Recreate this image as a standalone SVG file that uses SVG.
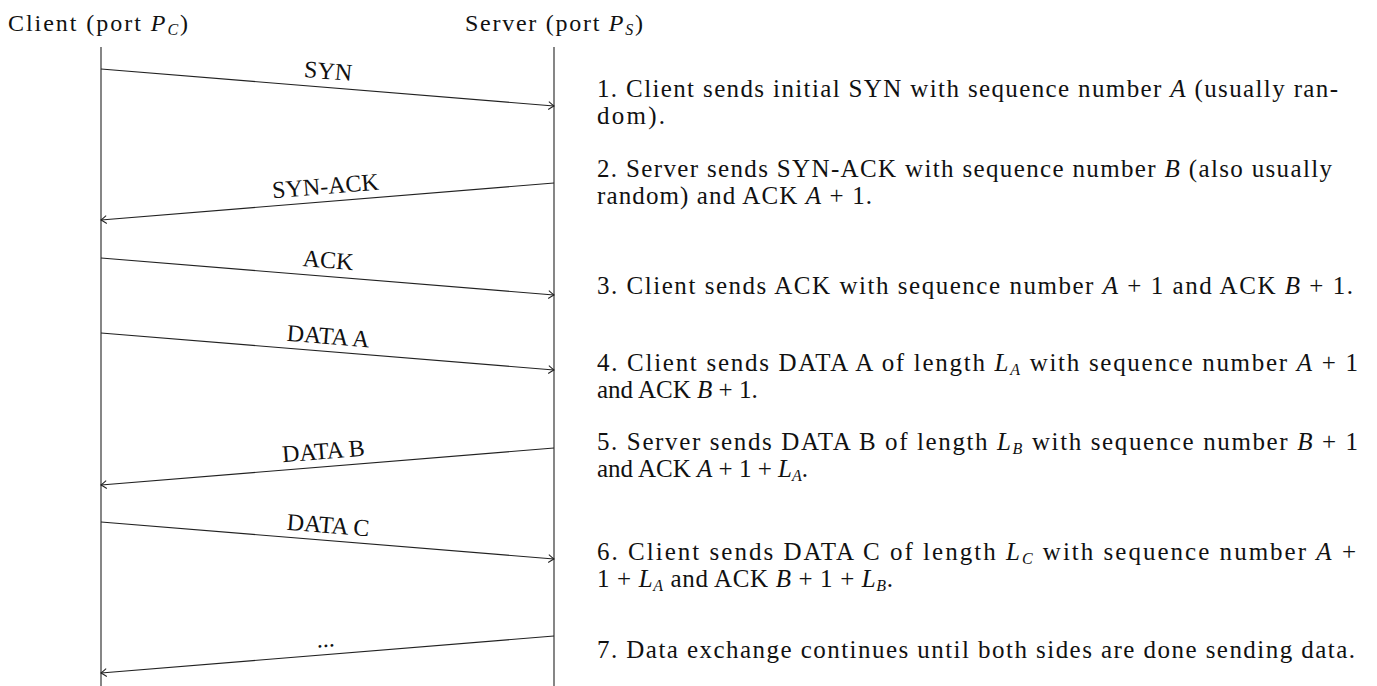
<svg xmlns="http://www.w3.org/2000/svg" width="1377" height="686" viewBox="0 0 1377 686">
<style>
text{font-family:"Liberation Serif","DejaVu Serif",serif;fill:#111;font-size:24px}
.n{font-size:25px}
.m{font-style:italic}
.s{font-size:16px;font-style:italic}
.life{stroke:#222;stroke-width:1.1}
.msg{stroke:#222;stroke-width:1.1;fill:none;marker-end:url(#arr)}
</style>
<defs>
<marker id="arr" markerUnits="userSpaceOnUse" markerWidth="12" markerHeight="12" refX="0" refY="0" viewBox="-7 -6 8 12" orient="auto">
<path d="M-5.5,-4 Q-1.5,-1 0,0 Q-1.5,1 -5.5,4" fill="none" stroke="#222" stroke-width="1"/>
</marker>
</defs>
<g id="client">
<text x="8" y="31" textLength="180" lengthAdjust="spacing">Client (port <tspan class="m">P</tspan><tspan class="s" dy="4">C</tspan><tspan dy="-4">)</tspan></text>
<line class="life" x1="101" y1="47" x2="101" y2="686"/>
</g>
<g id="server">
<text x="465" y="31" textLength="178" lengthAdjust="spacing">Server (port <tspan class="m">P</tspan><tspan class="s" dy="4">S</tspan><tspan dy="-4">)</tspan></text>
<line class="life" x1="554" y1="47" x2="554" y2="686"/>
</g>
<g id="connectors">
<line class="msg" x1="101" y1="69" x2="554" y2="106"/>
<line class="msg" x1="554" y1="183" x2="101" y2="220"/>
<line class="msg" x1="101" y1="258" x2="554" y2="295"/>
<line class="msg" x1="101" y1="333" x2="554" y2="370"/>
<line class="msg" x1="554" y1="448" x2="101" y2="485"/>
<line class="msg" x1="101" y1="522" x2="554" y2="559"/>
<line class="msg" x1="554" y1="636" x2="101" y2="673"/>
</g>
<g id="labels" text-anchor="middle">
<text transform="translate(327.5,79) rotate(4.67)">SYN</text>
<text transform="translate(326,194) rotate(-4.67)">SYN-ACK</text>
<text transform="translate(327.5,268) rotate(4.67)">ACK</text>
<text transform="translate(327.5,344) rotate(4.67)">DATA A</text>
<text transform="translate(324,459) rotate(-4.67)">DATA B</text>
<text transform="translate(327.5,533) rotate(4.67)">DATA C</text>
<text transform="translate(326,647) rotate(-4.67)">...</text>
</g>
<g id="notes">
<text class="n" x="597" y="97" textLength="741" lengthAdjust="spacing">1. Client sends initial SYN with sequence number <tspan class="m">A</tspan> (usually ran-</text>
<text class="n" x="597" y="124" textLength="68" lengthAdjust="spacing">dom).</text>
<text class="n" x="597" y="177" textLength="735" lengthAdjust="spacing">2. Server sends SYN-ACK with sequence number <tspan class="m">B</tspan> (also usually</text>
<text class="n" x="597" y="204" textLength="275" lengthAdjust="spacing">random) and ACK <tspan class="m">A</tspan> + 1.</text>
<text class="n" x="597" y="294" textLength="756" lengthAdjust="spacing">3. Client sends ACK with sequence number <tspan class="m">A</tspan> + 1 and ACK <tspan class="m">B</tspan> + 1.</text>
<text class="n" x="597" y="371" textLength="761" lengthAdjust="spacing">4. Client sends DATA A of length <tspan class="m">L</tspan><tspan class="s" dy="4">A</tspan><tspan dy="-4"> with sequence number </tspan><tspan class="m">A</tspan> + 1</text>
<text class="n" x="597" y="398">and ACK <tspan class="m">B</tspan> + 1.</text>
<text class="n" x="597" y="450" textLength="761" lengthAdjust="spacing">5. Server sends DATA B of length <tspan class="m">L</tspan><tspan class="s" dy="4">B</tspan><tspan dy="-4"> with sequence number </tspan><tspan class="m">B</tspan> + 1</text>
<text class="n" x="597" y="477">and ACK <tspan class="m">A</tspan> + 1 + <tspan class="m">L</tspan><tspan class="s" dy="4">A</tspan><tspan dy="-4">.</tspan></text>
<text class="n" x="597" y="560" textLength="759" lengthAdjust="spacing">6. Client sends DATA C of length <tspan class="m">L</tspan><tspan class="s" dy="4">C</tspan><tspan dy="-4"> with sequence number </tspan><tspan class="m">A</tspan> +</text>
<text class="n" x="597" y="587" textLength="296" lengthAdjust="spacing">1 + <tspan class="m">L</tspan><tspan class="s" dy="4">A</tspan><tspan dy="-4"> and ACK </tspan><tspan class="m">B</tspan> + 1 + <tspan class="m">L</tspan><tspan class="s" dy="4">B</tspan><tspan dy="-4">.</tspan></text>
<text class="n" x="597" y="658" textLength="758" lengthAdjust="spacing">7. Data exchange continues until both sides are done sending data.</text>
</g>
</svg>
